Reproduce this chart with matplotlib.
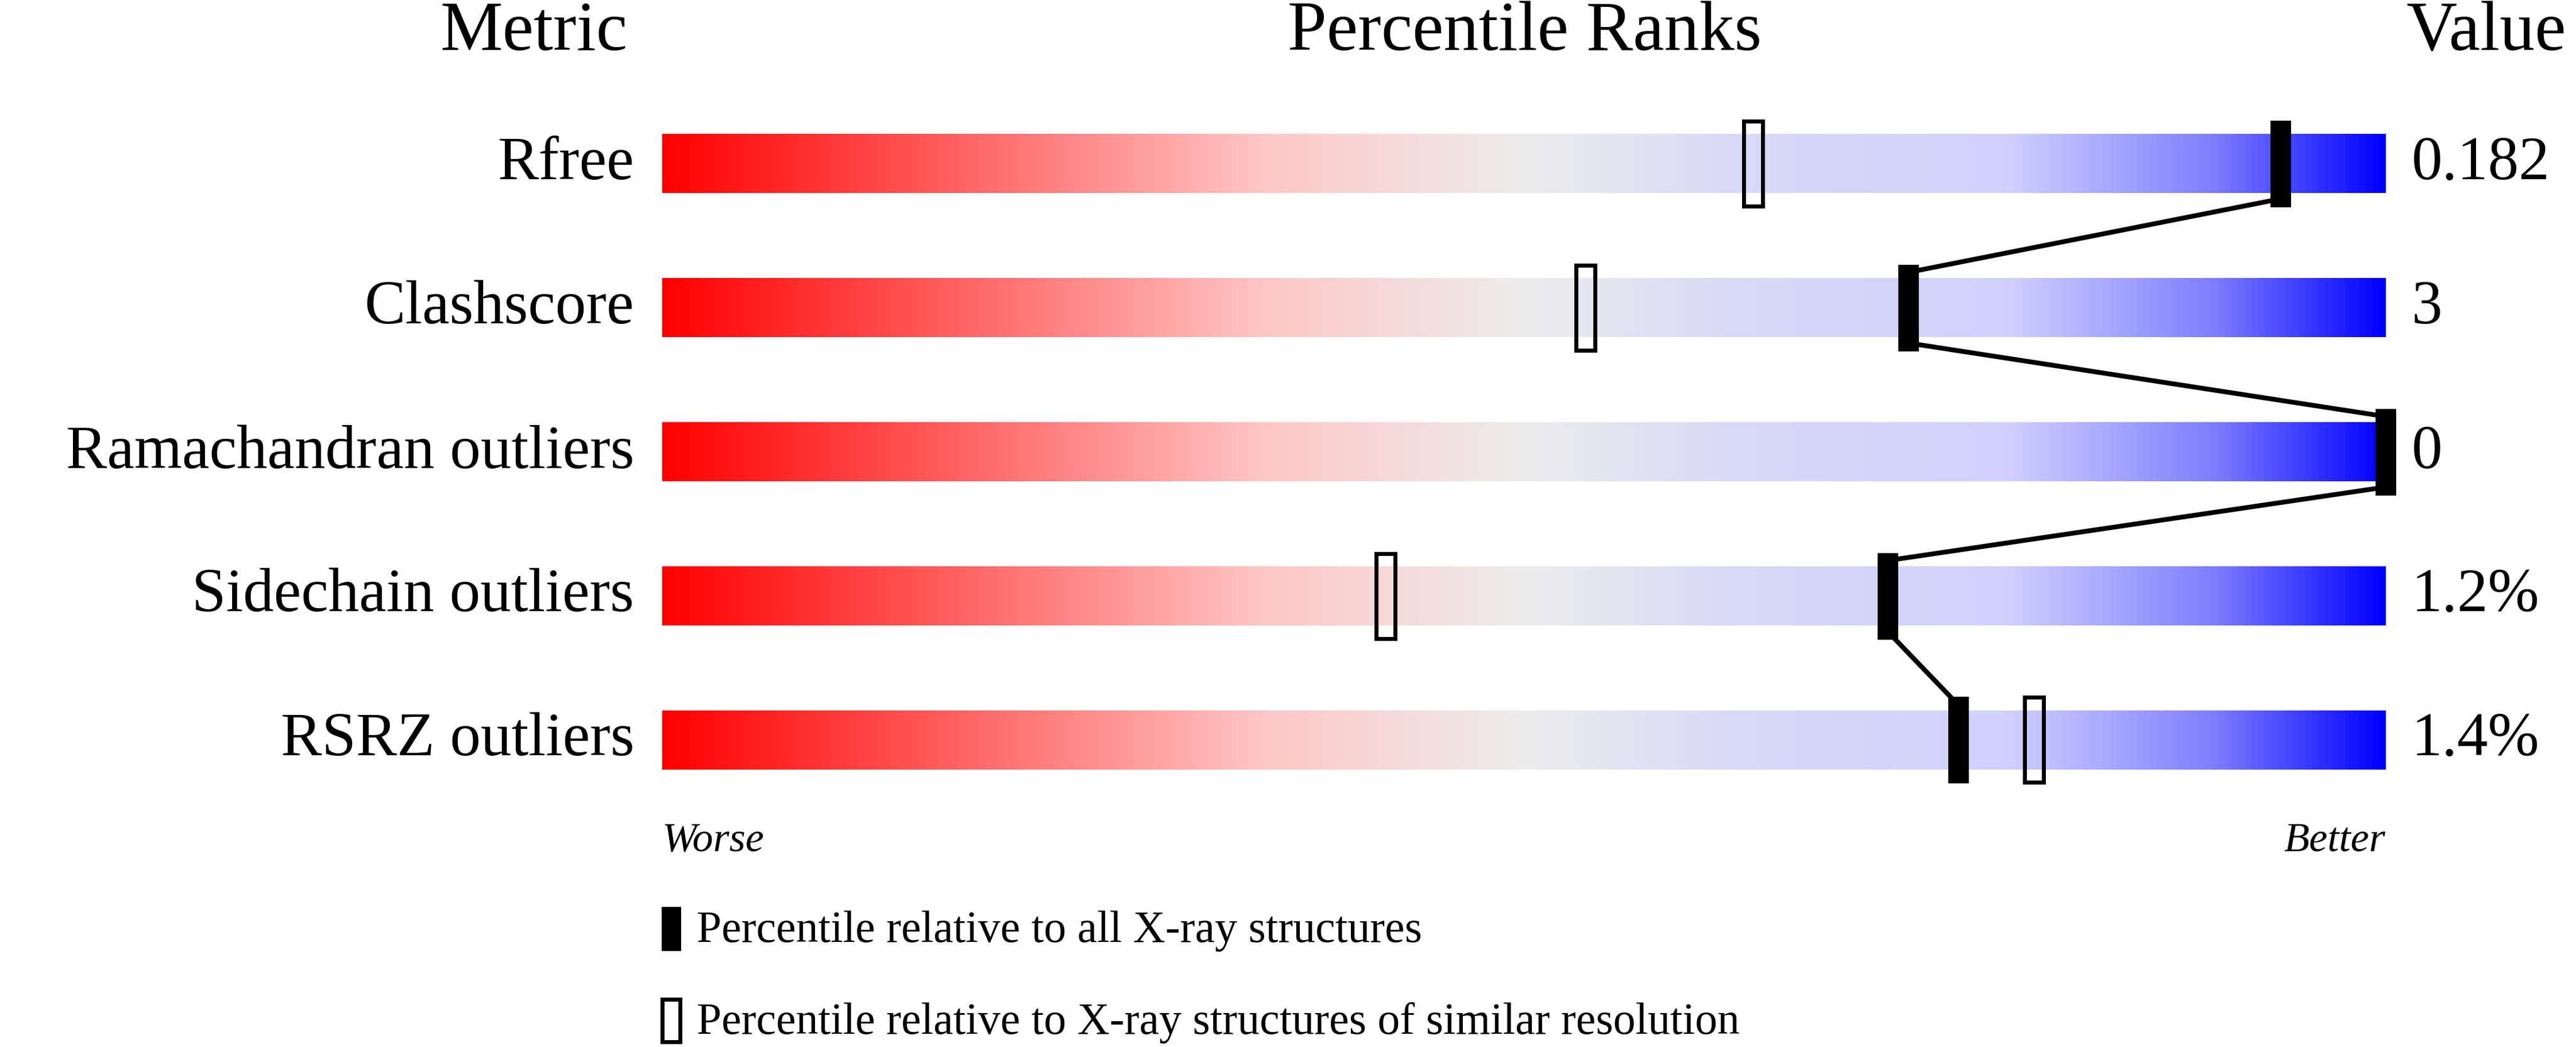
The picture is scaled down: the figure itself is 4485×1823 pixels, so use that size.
import numpy as np
import matplotlib
matplotlib.use("Agg")
import matplotlib.pyplot as plt
from matplotlib.colors import LinearSegmentedColormap
from matplotlib.patches import Rectangle

metrics = ["Rfree", "Clashscore", "Ramachandran outliers", "Sidechain outliers", "RSRZ outliers"]
values = ["0.182", "3", "0", "1.2%", "1.4%"]
pct_all = [93.9, 72.3, 100.0, 71.1, 75.2]
pct_sim = [63.3, 53.6, None, 42.0, 79.6]

W, H = 1568, 638
fig = plt.figure(figsize=(44.85, 18.24), dpi=100)
serif = ["Liberation Serif", "DejaVu Serif"]

def fx(x): return x / W
def fy(y): return 1 - y / H

cmap = LinearSegmentedColormap.from_list("v", [
    (0.0, (1, 0, 0)), (0.2, (1, 0.45, 0.45)), (0.35, (1, 0.78, 0.78)),
    (0.5, (0.93, 0.93, 0.93)), (0.62, (0.85, 0.85, 0.97)), (0.78, (0.82, 0.82, 1.0)),
    (0.9, (0.5, 0.5, 1.0)), (1.0, (0, 0, 1))])

ax = fig.add_axes([fx(403), fy(494.9), fx(1452) - fx(403), (494.9 - 56.1) / H])
ax.axis("off")
grad = np.linspace(0, 1, 512)[None, :]
bh = 0.41
for i in range(len(metrics)):
    ax.imshow(grad, cmap=cmap, extent=(0, 100, i + bh / 2, i - bh / 2), aspect="auto", zorder=1)
ax.set_ylim(4.5, -0.5)
ax.set_xlim(0, 100)

mw, mh = 1.1, 0.59
for i, p in enumerate(pct_sim):
    if p is not None:
        ax.add_patch(Rectangle((p - mw / 2, i - mh / 2), mw, mh, facecolor="none",
                               edgecolor="black", lw=5, zorder=3, clip_on=False))
for i, p in enumerate(pct_all):
    ax.add_patch(Rectangle((p - mw / 2, i - mh / 2), mw, mh, facecolor="black",
                           edgecolor="black", lw=2, zorder=4, clip_on=False))
for i in range(len(pct_all) - 1):
    ax.plot([pct_all[i], pct_all[i + 1]], [i + mh / 2 - 0.05, i + 1 - mh / 2 + 0.05], color="black",
            lw=6, zorder=2, clip_on=False)

fig.text(fx(325), fy(20), "Metric", ha="center", va="center", fontsize=88, family=serif)
fig.text(fx(928), fy(20), "Percentile Ranks", ha="center", va="center", fontsize=88, family=serif)
fig.text(fx(1562), fy(20), "Value", ha="right", va="center", fontsize=88, family=serif)
rows_y = [100, 188, 276, 363, 451]
for m, v, y in zip(metrics, values, rows_y):
    fig.text(fx(386), fy(y), m, ha="right", va="center", fontsize=77, family=serif)
    fig.text(fx(1468), fy(y), v, ha="left", va="center", fontsize=77, family=serif)
fig.text(fx(403), fy(512), "Worse", ha="left", va="center", fontsize=52, style="italic", family=serif)
fig.text(fx(1452), fy(512), "Better", ha="right", va="center", fontsize=52, style="italic", family=serif)

lax = fig.add_axes([0, 0, 1, 1], facecolor="none")
lax.set_xlim(0, W); lax.set_ylim(H, 0); lax.axis("off")
lax.add_patch(Rectangle((403, 553), 11, 26, facecolor="black", edgecolor="black", lw=2))
lax.add_patch(Rectangle((403, 609), 11, 26, facecolor="none", edgecolor="black", lw=5))
fig.text(fx(424), fy(567), "Percentile relative to all X-ray structures", ha="left", va="center",
         fontsize=56, family=serif)
fig.text(fx(424), fy(623), "Percentile relative to X-ray structures of similar resolution",
         ha="left", va="center", fontsize=56, family=serif)

fig.savefig("out.png", dpi=100, facecolor="white")
